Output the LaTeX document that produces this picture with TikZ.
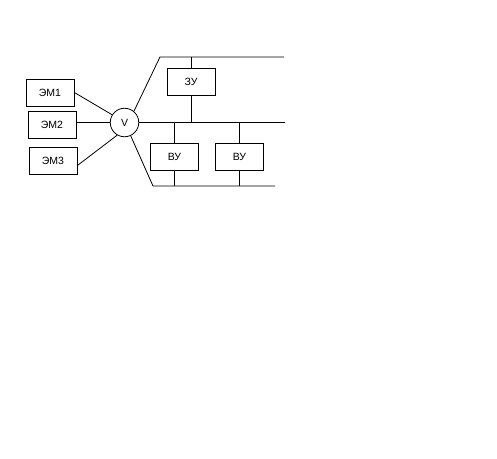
\documentclass[tikz,border=0pt]{standalone}
\usepackage{fontspec}
\setmainfont{Liberation Sans}
\begin{document}
\begin{tikzpicture}[x=1pt,y=-1pt,line width=0.8pt,
  blk/.style={draw,minimum width=48pt,minimum height=27pt,inner sep=0pt,font=\fontsize{10.5}{12}\selectfont},
  hub/.style={draw,circle,minimum size=28.5pt,inner sep=0pt,font=\fontsize{10.5}{12}\selectfont}]
\useasboundingbox (0,0) rectangle (497,458);
\node[blk] (e1) at (50,92.5) {ЭМ1};
\node[blk] (e2) at (52,124.5) {ЭМ2};
\node[blk] (e3) at (53,160.5) {ЭМ3};
\node[hub] (v) at (124.5,122.5) {V};
\node[blk] (zu) at (191,81.5) {ЗУ};
\node[blk] (vu1) at (174.5,156.5) {ВУ};
\node[blk] (vu2) at (239.5,156.5) {ВУ};
\coordinate (t0) at (160,57);
\coordinate (t1) at (284,57);
\coordinate (m1) at (285,122.5);
\coordinate (b0) at (153,186);
\coordinate (b1) at (275,186);
\draw (e1.east) -- (v.148);
\draw (e2.east |- v.west) -- (v.west);
\draw ([yshift=-5pt]e3.east) -- (v.240);
\draw (v.50) -- (t0) -- (t1);
\draw (v.east) -- (m1);
\draw (v.-65) -- (b0) -- (b1);
\draw (zu.north) -- (zu.north |- t0);
\draw (zu.south) -- (zu.south |- m1);
\draw (vu1.north) -- (vu1.north |- m1);
\draw (vu1.south) -- (vu1.south |- b0);
\draw (vu2.north) -- (vu2.north |- m1);
\draw (vu2.south) -- (vu2.south |- b0);
\end{tikzpicture}
\end{document}
